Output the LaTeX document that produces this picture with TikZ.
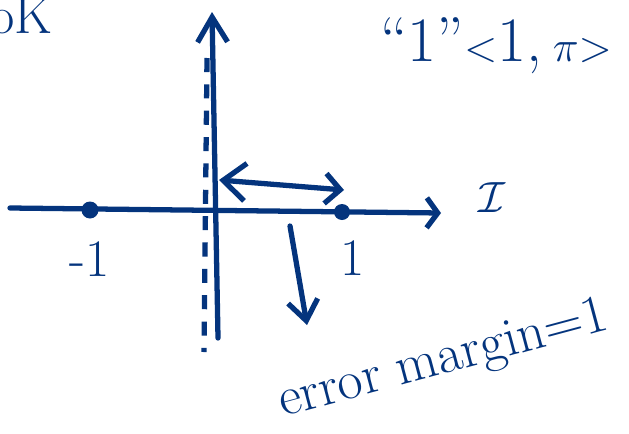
\documentclass[tikz,border=0pt]{standalone}
\usepackage{amsmath,amssymb}
\usepackage{xcolor}
\usetikzlibrary{arrows.meta}
\definecolor{ink}{RGB}{4,52,125}
\tikzset{
  pen/.style={ink, line width=3pt, line cap=round, line join=round},
  barb/.style={-{Straight Barb[length=#1, width=0.6cm, line width=3pt]}},
  scribble/.style={ink, inner sep=0pt, font=\fontsize{30}{34}\selectfont}
}

\begin{document}
\begin{tikzpicture}[x=0.02cm, y=-0.02cm]
  \useasboundingbox (0,0) rectangle (629,433);
  % axes
  \coordinate (ybot) at (218,338);
  \coordinate (ytop) at (212,12);
  \coordinate (xleft) at (10,208);
  \coordinate (xright) at (441,213);
  \draw[pen, barb=0.5cm] (ybot) -- (ytop);
  \draw[pen, barb=0.22cm] (xleft) -- (xright);
  \draw[pen, line cap=butt, dash pattern=on 8pt off 7pt] (207,58) -- (204,352);
  % points
  \fill[ink] (90,210) circle (8.5) node[scribble, below=18pt] (mone) {-1};
  \fill[ink] (342,212) circle (8) node[scribble, below=16pt, xshift=6pt] (one) {1};
  % arrows
  \coordinate (dl) at (219,180);
  \coordinate (dr) at (344,190);
  \draw[pen, {Straight Barb[length=0.45cm, width=0.75cm, line width=3pt]}-{Straight Barb[length=0.3cm, width=0.6cm, line width=3pt]}] (dl) -- (dr);
  \coordinate (dtop) at (290,226);
  \coordinate (dbot) at (307,325);
  \draw[pen, barb=0.4cm] (dtop) -- (dbot);
  % labels
  \node[scribble, anchor=west] (ilabel) at (478,198) {$\mathcal{I}$};
  \node[scribble, anchor=west] (ok) at (-10,16) {oK};
  \node[scribble, anchor=west, font=\fontsize{36}{40}\selectfont] (tr) at (380,46) {``1''$<$1,\,$\pi$$>$};
  \node[scribble, anchor=south west, rotate=15, font=\fontsize{31}{34}\selectfont] (err) at (286,428) {error margin=1};
\end{tikzpicture}
\end{document}
